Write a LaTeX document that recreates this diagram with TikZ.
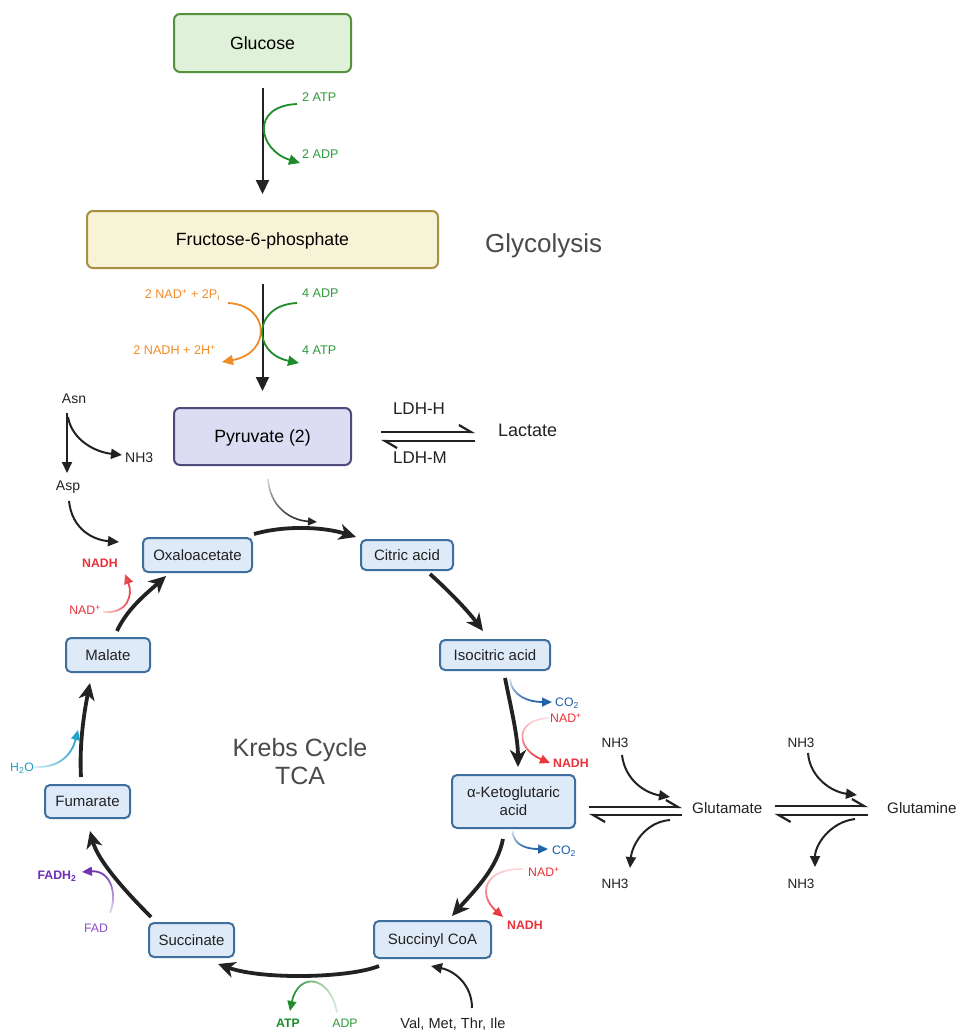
\documentclass[tikz,border=0pt]{standalone}
\usepackage{fontspec}
\setmainfont{Liberation Sans}
\usetikzlibrary{arrows.meta,calc,fadings}

\definecolor{cgreen}{HTML}{1E8C2A}
\definecolor{cgreentxt}{HTML}{2E9B3B}
\definecolor{corange}{HTML}{F08C28}
\definecolor{cred}{HTML}{E8313A}
\definecolor{cblue}{HTML}{1B5FA5}
\definecolor{ccyan}{HTML}{1BA0C8}
\definecolor{cpurple}{HTML}{6E2FB0}
\definecolor{cpurplel}{HTML}{8A4FC8}
\definecolor{cdark}{HTML}{222222}
\definecolor{cgray}{HTML}{4A4A4A}
\definecolor{glufill}{HTML}{DFF2D9}
\definecolor{gludraw}{HTML}{56913F}
\definecolor{f6pfill}{HTML}{F7F3D6}
\definecolor{f6pdraw}{HTML}{A89040}
\definecolor{pyrfill}{HTML}{DCDCF3}
\definecolor{pyrdraw}{HTML}{4D4B7B}
\definecolor{kfill}{HTML}{DEEAF8}
\definecolor{kdraw}{HTML}{3F6F9E}

\tikzfading[name=fromN, top color=transparent!85, middle color=transparent!0, bottom color=transparent!0]
\tikzfading[name=fromS, top color=transparent!0, middle color=transparent!0, bottom color=transparent!85]
\tikzfading[name=fromW, left color=transparent!85, middle color=transparent!0, right color=transparent!0]
\tikzfading[name=fromE, left color=transparent!0, middle color=transparent!0, right color=transparent!85]

\newcommand\fs[2]{\fontsize{#1}{#2}\selectfont}

\tikzset{
  bigbox/.style={draw, line width=2pt, rounded corners=6pt, inner sep=0pt,
    minimum height=57pt, text height=12.7pt, text depth=0pt, font=\fs{17.7}{21}},
  glubox/.style={bigbox, fill=glufill, draw=gludraw, minimum width=177pt, minimum height=58pt},
  f6pbox/.style={bigbox, fill=f6pfill, draw=f6pdraw, minimum width=351pt},
  pyrbox/.style={bigbox, fill=pyrfill, draw=pyrdraw, minimum width=177pt},
  kboxbase/.style={draw=kdraw, fill=kfill, line width=2pt, rounded corners=5pt,
    inner sep=0pt, font=\fs{15}{18}, text=cdark},
  kbox/.style={kboxbase, text height=10.7pt, text depth=0pt},
  lbl/.style={inner sep=0pt, text=cdark},
  small/.style={inner sep=0pt, font=\fs{12.6}{15}},
  cof/.style={inner sep=0pt, font=\fs{12.3}{15}},
  cofb/.style={inner sep=0pt, font=\fs{12.3}{15}\bfseries},
  mainarr/.style={draw=cdark, line width=2pt, -{Triangle[length=14pt,width=13pt]}},
  cyc/.style={draw=cdark, line width=3.8pt, -{Stealth[length=17pt,width=16pt,inset=5pt]}},
  side/.style={line width=1.8pt, -{Triangle[length=10pt,width=9pt]}},
  blk/.style={draw=cdark, line width=2pt, -{Triangle[length=11pt,width=10pt]}},
  eqarr/.style={draw=cdark, line width=2.2pt, -{Straight Barb[left,length=12pt,width=14pt]}},
}

\begin{document}
\begin{tikzpicture}[x=1pt,y=-1pt]
\fill[white] (0,0) rectangle (956,1031);
\useasboundingbox (0,0) rectangle (956,1031);

% ---------- Glycolysis boxes ----------
\node[glubox] (glu) at (262.5,43) {Glucose};
\node[f6pbox] (f6p) at (262.5,239.5) {Fructose-6-phosphate};
\node[pyrbox] (pyr) at (262.5,436.5) {Pyruvate (2)};
\node[lbl, anchor=base west, text=cgray, font=\fs{26}{30}] (glyc) at (485,252) {Glycolysis};

% ---------- glycolysis labels ----------
\node[small, text=cgreentxt, anchor=base west] (atp2) at (302,101.5) {2 ATP};
\node[small, text=cgreentxt, anchor=base west] (adp2) at (302,158.5) {2 ADP};
\node[small, text=corange, anchor=base east] (nadp2) at (220,298.5) {2 NAD\textsuperscript{+} + 2P\textsubscript{i}};
\node[small, text=corange, anchor=base east] (nadh2) at (216,354.5) {2 NADH + 2H\textsuperscript{+}};
\node[small, text=cgreentxt, anchor=base west] (adp4) at (302,297.5) {4 ADP};
\node[small, text=cgreentxt, anchor=base west] (atp4) at (302,354.5) {4 ATP};

% ---------- glycolysis arrows ----------
\draw[mainarr, shorten <=15pt, shorten >=16pt] (glu) -- (f6p);
\draw[mainarr, shorten <=15pt, shorten >=16pt] (f6p) -- (pyr);
\draw[side, draw=cgreen, -{Triangle[length=11pt,width=10pt]}]
  ($(atp2.base west)+(-5,2.5)$) .. controls +(-47,2) and +(-42,-13) .. ($(adp2.base west)+(-2,4.5)$);
\draw[side, draw=corange, -{Triangle[length=11pt,width=10pt]}]
  ($(f6p.south)+(-34.5,34)$) .. controls +(42,2) and +(50,-9) .. ($(f6p.south)+(-40.5,93)$);
\draw[side, draw=cgreen, -{Triangle[length=11pt,width=10pt]}]
  ($(f6p.south)+(34.5,34)$) .. controls +(-44,2) and +(-48,-10) .. ($(f6p.south)+(36.5,94)$);

% ---------- Lactate ----------
\node[lbl, anchor=base west, font=\fs{18}{21}] (lac) at (498,436.5) {Lactate};
\node[lbl, anchor=base, font=\fs{17}{20}] (ldhh) at (419,414) {LDH-H};
\node[lbl, anchor=base, font=\fs{17}{20}] (ldhm) at (420,463) {LDH-M};
\draw[eqarr] ($(pyr.east)+(29,-4.5)$) -- ($(lac.base west)+(-23,-4.5)$);
\draw[eqarr] ($(lac.base west)+(-23,4.5)$) -- ($(pyr.east)+(29,4.5)$);

% ---------- Asn / Asp ----------
\node[lbl, anchor=base, font=\fs{14}{17}] (asn) at (74,403) {Asn};
\node[lbl, anchor=base west, font=\fs{14}{17}] (nh3a) at (125,462) {NH3};
\node[lbl, anchor=base, font=\fs{14}{17}] (asp) at (68,490) {Asp};
\draw[blk] ($(asn.base)+(-7,10)$) -- ($(asp.base)+(-1,-17)$);
\draw[blk] ($(asn.base)+(-6,14)$) .. controls +(4,23) and +(-27,-3) .. ($(nh3a.base west)+(-3,-7)$);

% ---------- Krebs boxes ----------
\node[kbox, minimum width=109pt, minimum height=34pt] (oxa) at (197.5,555) {Oxaloacetate};
\node[kbox, minimum width=92pt, minimum height=30pt] (cit) at (407,555) {Citric acid};
\node[kbox, minimum width=110pt, minimum height=30pt] (iso) at (495,655) {Isocitric acid};
\node[kboxbase, minimum width=123pt, minimum height=53pt, align=center] (akg) at (513.5,801.5) {α-Ketoglutaric\\acid};
\node[kbox, minimum width=117pt, minimum height=37pt] (suc) at (432.5,939.5) {Succinyl CoA};
\node[kbox, minimum width=85pt, minimum height=34pt] (sin) at (191.5,940) {Succinate};
\node[kbox, minimum width=85pt, minimum height=33pt] (fum) at (87.5,801.5) {Fumarate};
\node[kbox, minimum width=84pt, minimum height=34pt] (mal) at (108,655) {Malate};
\node[lbl, text=cgray, align=center, font=\fs{25}{28}] (krebs) at (300,762) {Krebs Cycle\\TCA};

% ---------- cycle arrows ----------
\draw[cyc] ($(oxa.north east)+(1,-3)$) .. controls +(32,-9) and +(-32,-10) .. ($(cit.north west)+(-4,-2)$);
\draw[cyc] ($(cit.south)+(23,3)$) .. controls +(20,18) and +(-15,-20) .. ($(iso.north)+(-12,-8)$);
\draw[cyc] ($(iso.south)+(10,7)$) .. controls +(6,30) and +(0,-30) .. ($(akg.north)+(4.5,-7)$);
\draw[cyc] ($(akg.south)+(-10.5,10)$) .. controls +(-6,30) and +(22,-25) .. ($(suc.north)+(19.5,-4)$);
\draw[cyc] ($(suc.south west)+(6,7)$) .. controls +(-30,12) and +(45,16) .. ($(sin.south east)+(-17,6)$);
\draw[cyc] ($(sin.north west)+(3,-5)$) .. controls +(-25,-25) and +(8,30) .. ($(fum.south)+(2.5,12)$);
\draw[cyc] ($(fum.north)+(-6.5,-7)$) .. controls +(-2,-35) and +(-5,25) .. ($(mal.south)+(-18,10)$);
\draw[cyc] ($(mal.north)+(9,-6)$) .. controls +(10,-22) and +(-20,18) .. ($(oxa.south west)+(24,3)$);

% pyruvate into cycle
\draw[draw=cdark, line width=1.6pt, path fading=fromN, -{Triangle[length=9pt,width=8pt]}]
  ($(pyr.south)+(5.5,13)$) .. controls +(2,27) and +(-28,-2) .. ($(cit.north west)+(-43,-17)$);
% Asp into cycle
\draw[blk] ($(asp.base)+(1,11)$) .. controls +(3,29) and +(-25,-2) .. ($(oxa.west)+(-23,-13)$);

% ---------- cofactor labels ----------
\node[cofb, text=cred, anchor=base] (nadho) at (100,567.5) {NADH};
\node[cof, text=cred, anchor=base east] (nadm) at (101,614.5) {NAD\textsuperscript{+}};
\node[cof, text=cblue, anchor=base west] (co2a) at (555,706.5) {CO\textsubscript{2}};
\node[cof, text=cred, anchor=base west] (nada) at (550,722.5) {NAD\textsuperscript{+}};
\node[cofb, text=cred, anchor=base west] (nadha) at (553,767.5) {NADH};
\node[cof, text=cblue, anchor=base west] (co2b) at (552,854.5) {CO\textsubscript{2}};
\node[cof, text=cred, anchor=base west] (nadb) at (528,876.5) {NAD\textsuperscript{+}};
\node[cofb, text=cred, anchor=base west] (nadhb) at (507,929.5) {NADH};
\node[cofb, text=cgreen, anchor=base] (atpc) at (288,1027.5) {ATP};
\node[cof, text=cgreentxt, anchor=base] (adpc) at (345,1027.5) {ADP};
\node[lbl, anchor=base, font=\fs{14.6}{17}] (val) at (453,1028) {Val, Met, Thr, Ile};
\node[cofb, text=cpurple, anchor=base] (fadh) at (57,879.5) {FADH\textsubscript{2}};
\node[cof, text=cpurplel, anchor=base] (fad) at (96,932.5) {FAD};
\node[cof, text=ccyan, anchor=base] (h2o) at (22,771.5) {H\textsubscript{2}O};

% ---------- cofactor arrows ----------
\draw[side, draw=cblue, path fading=fromN] ($(iso.south)+(15,8)$) .. controls +(2,18) and +(-22,0) .. ($(co2a.base west)+(-3,-4.5)$);
\draw[side, draw=cred, path fading=fromN] ($(nada.base west)+(-2,-4.5)$) .. controls +(-33,2) and +(-35,-15) .. ($(nadha.base west)+(-3,-4.5)$);
\draw[side, draw=cblue, path fading=fromN] ($(akg.south)+(-1,2)$) .. controls +(1,15) and +(-20,0) .. ($(co2b.base west)+(-4,-5.5)$);
\draw[side, draw=cred, path fading=fromN] ($(nadb.base west)+(-5,-7.5)$) .. controls +(-40,-1) and +(-25,-22) .. ($(nadhb.base west)+(-4,-12.5)$);
\draw[side, draw=cgreen, path fading=fromE] ($(adpc.base)+(-8,-15)$) .. controls +(-7,-38) and +(8,-39) .. ($(atpc.base)+(2,-16.5)$);
\draw[blk] ($(val.base)+(19,-20)$) .. controls +(0,-23) and +(24,5) .. ($(suc.south)+(-1.5,7)$);
\draw[side, draw=cpurple, path fading=fromS] ($(fad.base)+(14,-19.5)$) .. controls +(8,-20) and +(28,-2) .. ($(fadh.base)+(25,-7.5)$);
\draw[side, draw=ccyan, path fading=fromW] ($(h2o.base)+(13,-4.5)$) .. controls +(25,1) and +(-6,24) .. ($(fum.north)+(-9.5,-54)$);
\draw[side, draw=cred, path fading=fromW] ($(nadm.base east)+(2,-2.5)$) .. controls +(25,2) and +(8,21) .. ($(nadho.base)+(25,6.5)$);

% ---------- Glutamate / Glutamine ----------
\node[lbl, anchor=base west, font=\fs{15.2}{18}] (gluta) at (692,813.5) {Glutamate};
\node[lbl, anchor=base west, font=\fs{15.2}{18}] (glutm) at (887,813.5) {Glutamine};
\node[lbl, anchor=base, font=\fs{13.5}{16}] (nh3t1) at (615,747) {NH3};
\node[lbl, anchor=base, font=\fs{13.5}{16}] (nh3b1) at (615,888) {NH3};
\node[lbl, anchor=base, font=\fs{13.5}{16}] (nh3t2) at (801,747) {NH3};
\node[lbl, anchor=base, font=\fs{13.5}{16}] (nh3b2) at (801,888) {NH3};

\draw[eqarr] ($(akg.east)+(13,5.5)$) -- ($(gluta.base west)+(-10,-6.5)$);
\draw[eqarr] ($(gluta.base west)+(-10,1.5)$) -- ($(akg.east)+(13,13.5)$);
\draw[eqarr] ($(gluta.base east)+(12,-7.5)$) -- ($(glutm.base west)+(-19,-7.5)$);
\draw[eqarr] ($(glutm.base west)+(-19,1.5)$) -- ($(gluta.base east)+(12,1.5)$);

\draw[blk] ($(nh3t1.base)+(7,8)$) .. controls +(3,25) and +(-25,-4) .. ($(gluta.base west)+(-22,-16.5)$);
\draw[blk] ($(gluta.base west)+(-22,6.5)$) .. controls +(-25,2) and +(2,-23) .. ($(nh3b1.base)+(15,-20)$);
\draw[blk] ($(nh3t2.base)+(7,6)$) .. controls +(2,25) and +(-25,-3) .. ($(glutm.base west)+(-30,-18.5)$);
\draw[blk] ($(glutm.base west)+(-32,5.5)$) .. controls +(-25,3) and +(0,-22) .. ($(nh3b2.base)+(14,-21)$);
\end{tikzpicture}
\end{document}
